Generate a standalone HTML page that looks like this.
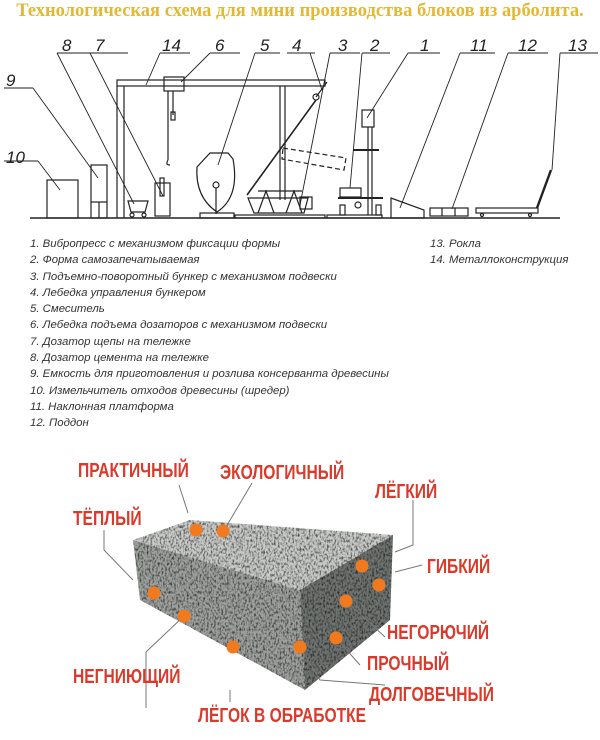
<!DOCTYPE html>
<html><head><meta charset="utf-8"><style>
html,body{margin:0;padding:0;background:#fff;}
body{width:600px;height:729px;position:relative;overflow:hidden;font-family:"Liberation Sans",sans-serif;}
.t{position:absolute;left:0;top:1px;width:600px;text-align:center;font-family:"Liberation Serif",serif;font-weight:bold;font-size:18.5px;color:#e3b832;white-space:nowrap;}
.list{position:absolute;font-family:"Liberation Sans",sans-serif;font-style:italic;font-size:11.4px;color:#333;line-height:16.3px;white-space:nowrap;}
.r{position:absolute;font-family:"Liberation Sans",sans-serif;font-weight:bold;font-size:20px;color:#d93a2b;white-space:nowrap;line-height:24px;transform:scaleX(0.78);transform-origin:0 0;}
</style></head><body>
<div class="t">Технологическая схема для мини производства блоков из арболита.</div>
<svg width="600" height="230" style="position:absolute;left:0;top:0" stroke="#222" fill="none" stroke-width="1.2">
<line x1="30" y1="218" x2="560" y2="218" stroke-width="1.5"/>
<g font-family="Liberation Sans" font-style="italic" font-size="17" fill="#222" stroke="none">
<text x="62" y="51">8</text><text x="95" y="51">7</text><text x="162" y="51">14</text><text x="215" y="51">6</text>
<text x="260" y="51">5</text><text x="292" y="51">4</text><text x="338" y="51">3</text><text x="370" y="51">2</text>
<text x="420" y="51">1</text><text x="470" y="51">11</text><text x="518" y="51">12</text><text x="568" y="51">13</text>
<text x="6" y="86">9</text><text x="6" y="163">10</text></g>
<g stroke-width="0.9">
<polyline points="57,53 97,53"/><line x1="57" y1="53" x2="134" y2="204"/>
<polyline points="90,53 128,53"/><line x1="90" y1="53" x2="163" y2="196"/>
<polyline points="160,53 190,53"/><line x1="160" y1="53" x2="146" y2="85"/>
<polyline points="210,53 240,53"/><line x1="210" y1="53" x2="181" y2="82"/>
<polyline points="255,53 280,53"/><line x1="255" y1="53" x2="218" y2="165"/>
<polyline points="287,53 315,53"/><line x1="310" y1="53" x2="322" y2="90"/>
<polyline points="330,53 360,53"/><line x1="330" y1="53" x2="300" y2="205"/>
<polyline points="362,53 390,53"/><line x1="362" y1="53" x2="350" y2="188"/>
<polyline points="408,53 440,53"/><line x1="408" y1="53" x2="367" y2="118"/>
<polyline points="460,53 495,53"/><line x1="460" y1="53" x2="400" y2="208"/>
<polyline points="508,53 548,53"/><line x1="508" y1="53" x2="452" y2="209"/>
<polyline points="560,53 598,53"/><line x1="560" y1="53" x2="552" y2="170"/>
<polyline points="4,88 33,88"/><line x1="33" y1="88" x2="98" y2="178"/>
<polyline points="4,161 38,161"/><line x1="38" y1="161" x2="60" y2="190"/>
</g>
<rect x="47" y="180" width="31" height="38"/>
<rect x="91" y="165" width="16" height="53"/><line x1="91" y1="202" x2="107" y2="202"/><line x1="99" y1="202" x2="99" y2="218"/>
<rect x="117" y="80" width="208" height="6"/>
<line x1="117" y1="86" x2="117" y2="218"/><line x1="124" y1="86" x2="124" y2="218"/>
<line x1="280" y1="86" x2="280" y2="200"/><line x1="285" y1="86" x2="285" y2="200"/>
<rect x="164" y="77" width="20" height="14"/>
<line x1="168" y1="91" x2="168" y2="160"/><line x1="173" y1="91" x2="173" y2="115"/><rect x="171" y="112" width="4" height="8"/>
<path d="M168,160 q-3,5 2,5"/>
<path d="M128,201 h20 l-3,11 h-14 z"/><circle cx="132" cy="215" r="2"/><circle cx="144" cy="215" r="2"/>
<rect x="155" y="183" width="15" height="33"/><rect x="160" y="178" width="4" height="18"/>
<path d="M210,153 h18 l5,6 q7,38 -16,53 q-22,-15 -20,-45 z"/><circle cx="216" cy="185" r="3"/><line x1="216" y1="188" x2="216" y2="214"/>
<rect x="200" y="213" width="34" height="5"/>
<circle cx="316" cy="97" r="3"/><line x1="316" y1="97" x2="327" y2="82"/>
<line x1="316" y1="100" x2="247" y2="195" stroke-width="1.6"/>
<path d="M248,198 h60 l-4,15 h-50 z"/>
<path d="M258,213 l8,-22 l8,22 M286,213 l8,-22 l8,22"/><line x1="258" y1="191" x2="302" y2="191"/>
<rect x="300" y="197" width="12" height="12"/>
<rect x="235" y="215" width="90" height="3"/>
<polygon points="283,148 346,158 344,170 282,159" stroke-dasharray="5,3"/>
<rect x="362" y="110" width="12" height="17"/>
<line x1="368" y1="127" x2="368" y2="215"/><line x1="372" y1="127" x2="372" y2="215"/>
<line x1="353" y1="150" x2="379" y2="150" stroke-width="2"/>
<rect x="340" y="188" width="21" height="9"/>
<line x1="338" y1="198" x2="383" y2="198" stroke-width="2"/>
<rect x="340" y="205" width="5" height="10"/><rect x="376" y="205" width="5" height="10"/><circle cx="358" cy="205" r="3"/>
<rect x="327" y="215" width="55" height="3"/>
<polygon points="391,218 391,198 424,210 424,218"/>
<rect x="430" y="208" width="38" height="8"/><line x1="442" y1="208" x2="442" y2="216"/><line x1="455" y1="208" x2="455" y2="216"/>
<rect x="476" y="208" width="62" height="5"/><line x1="537" y1="208" x2="551" y2="170" stroke-width="2.4"/>
<circle cx="482" cy="215" r="1.5"/><circle cx="530" cy="215" r="1.5"/>
</svg>
<div class="list" style="left:30px;top:236px">
1. Вибропресс с механизмом фиксации формы<br>2. Форма самозапечатываемая<br>3. Подъемно-поворотный бункер с механизмом подвески<br>4. Лебедка управления бункером<br>5. Смеситель<br>6. Лебедка подъема дозаторов с механизмом подвески<br>7. Дозатор щепы на тележке<br>8. Дозатор цемента на тележке<br>9. Емкость для приготовления и розлива консерванта древесины<br>10. Измельчитель отходов древесины (шредер)<br>11. Наклонная платформа<br>12. Поддон</div>
<div class="list" style="left:430px;top:236px">13. Рокла<br>14. Металлоконструкция</div>
<svg width="600" height="300" style="position:absolute;left:0;top:440px">
<defs>
<filter id="n" x="0" y="0" width="100%" height="100%"><feTurbulence type="fractalNoise" baseFrequency="0.55 0.35" numOctaves="2" seed="4"/><feColorMatrix type="matrix" values="0 0 0 0 0  0 0 0 0 0  0 0 0 0 0  0 0 0 -2.2 1.25"/></filter>
</defs>
<polygon points="133,100 190,80 393,95 300,150" fill="#c8cac8"/>
<polygon points="300,150 393,95 390,180 305,250" fill="#6f7370"/>
<polygon points="133,100 300,150 305,250 140,160" fill="#9da09d"/>
<clipPath id="c"><polygon points="133,100 190,80 393,95 390,180 305,250 140,160"/></clipPath>
<rect x="120" y="70" width="290" height="190" filter="url(#n)" clip-path="url(#c)" opacity="0.75"/>
<g stroke="#777" stroke-width="1" fill="none">
<line x1="179" y1="45" x2="188" y2="73"/><line x1="252" y1="43" x2="223" y2="92"/>
<polyline points="413,60 413,105 395,112"/>
<line x1="422" y1="125" x2="395" y2="132"/>
<polyline points="104,90 104,110 133,140"/><polyline points="146,268 146,212 184,176"/>
<line x1="230" y1="250" x2="230" y2="262"/>
<polyline points="346,161 385,197"/><polyline points="336,198 360,225"/><polyline points="300,207 320,240 385,245"/>
</g>
<g fill="#f27a1e">
<circle cx="196" cy="90" r="6.5"/><circle cx="223" cy="91" r="6.5"/><circle cx="154" cy="153" r="6.5"/><circle cx="184" cy="176" r="6.5"/><circle cx="233" cy="207" r="6.5"/><circle cx="362" cy="126" r="6.5"/><circle cx="379" cy="145" r="6.5"/><circle cx="346" cy="161" r="6.5"/><circle cx="336" cy="198" r="6.5"/><circle cx="300" cy="207" r="6.5"/>
</g>
</svg>
<div class="r" style="left:78px;top:459px">ПРАКТИЧНЫЙ</div>
<div class="r" style="left:220px;top:461px">ЭКОЛОГИЧНЫЙ</div>
<div class="r" style="left:375px;top:480px">ЛЁГКИЙ</div>
<div class="r" style="left:73px;top:507px">ТЁПЛЫЙ</div>
<div class="r" style="left:427px;top:555px">ГИБКИЙ</div>
<div class="r" style="left:387px;top:621px">НЕГОРЮЧИЙ</div>
<div class="r" style="left:367px;top:652px">ПРОЧНЫЙ</div>
<div class="r" style="left:73px;top:665px">НЕГНИЮЩИЙ</div>
<div class="r" style="left:369px;top:683px">ДОЛГОВЕЧНЫЙ</div>
<div class="r" style="left:198px;top:704px">ЛЁГОК В ОБРАБОТКЕ</div>
</body></html>
